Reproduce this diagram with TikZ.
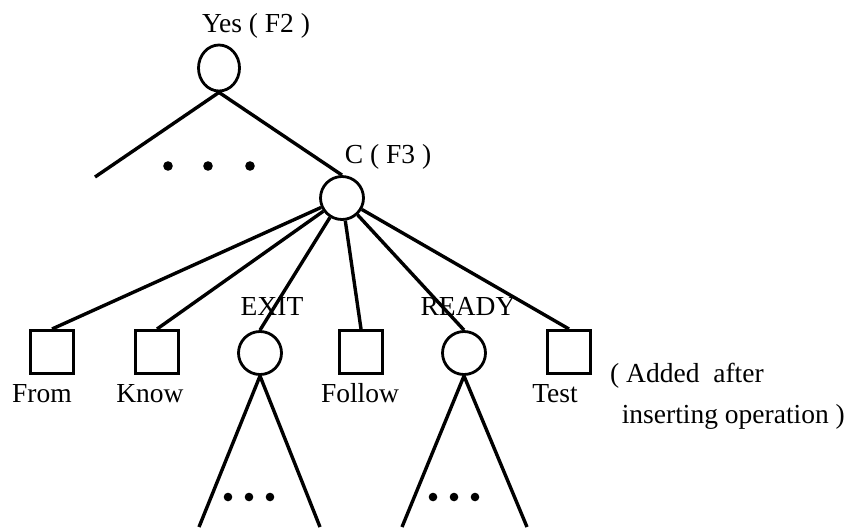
\documentclass[tikz,border=0pt]{standalone}
\usepackage{fontspec}
\setmainfont{Liberation Serif}
\usetikzlibrary{shapes.geometric}
\begin{document}
\begin{tikzpicture}[x=1pt,y=-1pt,
  every node/.style={font=\fontsize{27.5}{32}\selectfont, inner sep=0pt},
  branch/.style={draw, circle, line width=2.8pt, minimum size=43pt},
  leaf/.style={draw, rectangle, line width=3pt, minimum size=43pt},
  edge/.style={line width=3.4pt},
  dot/.style={fill=black}]
\useasboundingbox (0,0) rectangle (853,531);

% upper part of the tree
\node[draw, ellipse, line width=2.8pt, minimum width=41pt, minimum height=46pt] (yes) at (219,68) {};
\node[anchor=base] (yeslabel) at (256,32) {Yes ( F2 )};
\node[branch] (c) at (342,198) {};
\node[anchor=base] (clabel) at (388,163) {C ( F3 )};
\coordinate (yesleft) at (95,177);
\draw[edge] (yes.south) -- (yesleft);
\draw[edge] (yes.south) -- (c.north);
\foreach \x in {168,208,250} \fill[dot] (\x,166) circle (4.8pt);

% children of C
\node[leaf] (from) at (52,352) {};
\node[leaf] (know) at (157,352) {};
\node[branch] (exit) at (260,353) {};
\node[leaf] (follow) at (361,352) {};
\node[branch] (ready) at (464,353) {};
\node[leaf] (test) at (569,352) {};

\node[anchor=base] (fromlabel) at (42,402) {From};
\node[anchor=base] (knowlabel) at (150,402) {Know};
\node[anchor=base] (exitlabel) at (272,315) {EXIT};
\node[anchor=base] (followlabel) at (360,402) {Follow};
\node[anchor=base] (readylabel) at (468,315) {READY};
\node[anchor=base] (testlabel) at (555,402) {Test};
\node[anchor=base west] (note1) at (610,382) {( Added\ \ after};
\node[anchor=base east] (note2) at (845,423) {inserting operation )};

\foreach \n in {from,know,exit,follow,ready,test}
  \draw[edge] (c) -- (\n.north);

% open subtrees below EXIT and READY
\coordinate (exitl) at (199,527);
\coordinate (exitr) at (320,527);
\draw[edge] (exit.south) -- (exitl);
\draw[edge] (exit.south) -- (exitr);
\foreach \x in {228,249,270} \fill[dot] (\x,497) circle (4.3pt);

\coordinate (readyl) at (402,527);
\coordinate (readyr) at (527,527);
\draw[edge] (ready.south) -- (readyl);
\draw[edge] (ready.south) -- (readyr);
\foreach \x in {433,454,475} \fill[dot] (\x,497) circle (4.3pt);
\end{tikzpicture}
\end{document}
